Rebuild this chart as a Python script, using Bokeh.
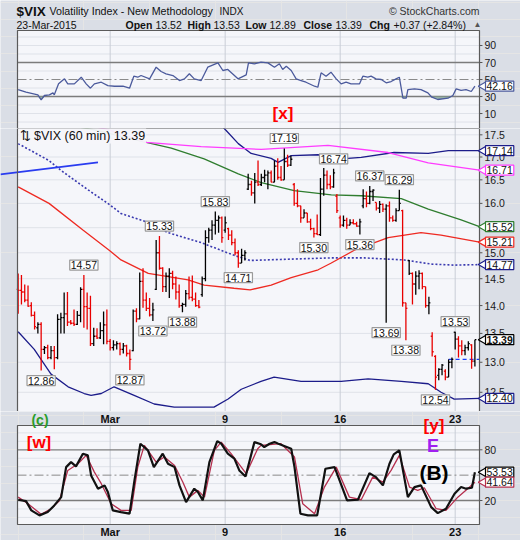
import numpy as np
from bokeh.plotting import figure
from bokeh.layouts import column
from bokeh.models import Range1d, Label
from bokeh.embed import file_html
from bokeh.resources import INLINE
from bokeh.core.properties import value

FONT = "Liberation Sans"
PANEL = "#f5f6fa"
BORDER = "#dadee6"
FRAME = "#5a5a5a"
GRID = "#dfe2e9"

# ---------------- data ----------------
# hourly bars, index 0 = first bar of 24-Feb-2015, 7 bars per trading day
bar_open = [14.30, 14.28, 14.25, 14.10, 14.00, 13.82, 13.60,
            13.66, 13.22, 13.25, 13.08, 13.20, 13.08, 13.75,
            13.78, 13.85, 13.70, 13.68, 13.66, 13.82, 14.30,
            13.98, 13.95, 13.32, 13.45, 13.42, 13.55, 13.65,
            13.36, 13.25, 13.30, 13.32, 13.22, 13.28, 13.15,
            13.20, 13.90, 13.76, 14.45, 14.10, 13.95, 13.83,
            14.30, 15.00, 14.70, 14.35, 14.55, 14.60, 14.40,
            14.25, 14.00, 14.02, 14.22, 14.15, 14.12, 14.00,
            14.20, 14.50, 15.30, 15.45, 15.55, 15.65, 15.70,
            15.45, 15.48, 15.35, 15.20, 15.00, 14.80, 14.95,
            16.30, 16.40, 16.22, 16.45, 16.40, 16.55, 16.60,
            16.65, 16.45, 16.80, 16.55, 16.50, 16.90, 16.82,
            16.40, 16.00, 15.95, 15.70, 15.80, 15.62, 15.48,
            15.38, 15.36, 16.30, 16.60, 16.40, 16.35, 16.15,
            15.70, 15.55, 15.65, 15.55, 15.60, 15.58, 15.53,
            15.95, 16.10, 16.00, 16.25, 16.02, 15.90, 15.98,
            15.88, 15.95, 15.70, 15.65, 15.85, 15.85, 14.05,
            14.85, 14.60, 14.40, 14.55, 14.60, 14.35, 14.00,
            13.45, 13.10, 12.78, 12.88, 12.85, 12.75, 13.00,
            13.52, 13.40, 13.28, 13.20, 13.25, 13.30, 13.02]
bar_high = [14.60, 14.57, 14.39, 14.37, 14.06, 13.89, 13.70,
            13.70, 13.28, 13.30, 13.28, 13.28, 13.84, 13.87,
            14.24, 14.25, 13.74, 13.93, 13.90, 14.34, 14.57,
            14.24, 14.18, 13.60, 13.59, 13.70, 13.89, 13.93,
            13.40, 13.38, 13.36, 13.34, 13.33, 13.30, 13.22,
            13.93, 13.95, 14.62, 14.70, 14.24, 14.14, 14.05,
            15.25, 15.33, 14.72, 14.62, 14.70, 14.65, 14.54,
            14.39, 14.05, 14.29, 14.54, 14.56, 14.24, 14.10,
            14.54, 15.45, 15.50, 15.65, 15.83, 15.75, 15.73,
            15.73, 15.50, 15.45, 15.28, 15.05, 15.08, 15.05,
            16.63, 16.48, 16.65, 16.92, 16.63, 16.72, 16.70,
            16.70, 16.92, 16.97, 16.80, 17.19, 17.05, 17.03,
            16.43, 16.30, 15.95, 15.88, 15.80, 15.68, 15.50,
            15.77, 16.54, 16.76, 16.70, 16.60, 16.74, 16.20,
            15.75, 15.75, 15.70, 15.67, 15.67, 15.62, 15.68,
            16.30, 16.25, 16.37, 16.30, 16.02, 16.05, 16.00,
            15.98, 16.04, 15.75, 15.90, 16.29, 15.87, 14.05,
            14.86, 14.62, 14.64, 14.66, 14.62, 14.35, 14.16,
            13.52, 13.12, 12.90, 12.97, 12.88, 13.05, 13.08,
            13.53, 13.45, 13.38, 13.30, 13.36, 13.31, 13.39]
bar_low = [13.85, 14.02, 14.06, 13.98, 13.80, 13.57, 13.50,
           12.86, 13.14, 13.05, 13.05, 12.88, 13.05, 13.50,
           13.50, 13.63, 13.66, 13.63, 13.65, 13.70, 13.60,
           13.57, 13.28, 13.28, 13.40, 13.40, 13.31, 13.31,
           13.20, 13.20, 13.22, 13.12, 13.15, 13.10, 12.87,
           13.19, 13.70, 13.75, 13.96, 13.90, 13.80, 13.72,
           14.29, 14.67, 14.25, 14.25, 14.14, 14.30, 14.11,
           13.96, 13.88, 13.98, 14.11, 14.08, 13.98, 13.95,
           14.16, 14.45, 15.20, 15.25, 15.36, 15.40, 15.20,
           15.40, 15.25, 15.15, 14.95, 14.71, 14.80, 14.85,
           16.28, 16.16, 16.00, 16.37, 16.37, 16.45, 16.30,
           16.45, 16.45, 16.50, 16.48, 16.50, 16.78, 16.80,
           15.95, 15.92, 15.60, 15.70, 15.60, 15.45, 15.30,
           15.35, 15.33, 16.16, 16.30, 16.30, 16.33, 15.80,
           15.50, 15.52, 15.48, 15.55, 15.57, 15.52, 15.36,
           15.90, 15.92, 15.98, 16.05, 15.85, 15.80, 15.82,
           13.69, 15.62, 15.62, 15.62, 15.85, 13.98, 13.38,
           14.57, 14.02, 14.20, 14.30, 14.30, 13.96, 13.84,
           13.10, 12.54, 12.70, 12.78, 12.70, 12.75, 12.90,
           13.22, 13.08, 13.12, 13.12, 13.20, 12.89, 12.93]
bar_close = [14.28, 14.25, 14.10, 13.99, 13.82, 13.62, 13.66,
             13.22, 13.25, 13.08, 13.20, 13.08, 13.75, 13.78,
             13.85, 13.70, 13.68, 13.66, 13.82, 14.30, 13.98,
             13.95, 13.32, 13.45, 13.42, 13.55, 13.65, 13.36,
             13.25, 13.30, 13.32, 13.22, 13.28, 13.15, 13.05,
             13.90, 13.76, 14.45, 14.10, 13.95, 13.83, 13.92,
             15.00, 14.70, 14.35, 14.55, 14.60, 14.40, 14.25,
             14.00, 14.02, 14.22, 14.15, 14.12, 14.00, 13.97,
             14.50, 15.30, 15.45, 15.55, 15.65, 15.70, 15.30,
             15.60, 15.35, 15.20, 15.00, 14.80, 14.95, 15.00,
             16.40, 16.22, 16.45, 16.40, 16.55, 16.60, 16.65,
             16.45, 16.80, 16.55, 16.50, 16.90, 16.82, 16.95,
             16.00, 15.95, 15.70, 15.80, 15.62, 15.48, 15.38,
             15.36, 16.30, 16.60, 16.40, 16.35, 16.65, 15.85,
             15.55, 15.65, 15.55, 15.60, 15.58, 15.53, 15.62,
             16.10, 16.00, 16.25, 16.28, 15.90, 15.98, 15.88,
             15.95, 15.70, 15.65, 15.85, 16.00, 14.05, 13.95,
             14.60, 14.40, 14.55, 14.60, 14.35, 14.00, 14.05,
             13.18, 12.75, 12.88, 12.95, 12.75, 13.00, 13.05,
             13.40, 13.28, 13.20, 13.25, 13.32, 13.02, 13.39]

high_callouts = [20, 43, 60, 81, 96, 107, 116, 133]
low_callouts = [7, 34, 41, 50, 67, 90, 104, 112, 118, 127]

week_ticks = [28, 63, 98, 133]
week_labels = ["Mar", "9", "16", "23"]
price_ticks = [12.5, 13.0, 13.5, 14.0, 14.5, 15.0, 15.5, 16.0, 16.5, 17.0, 17.5]
rsi_ticks = [10, 30, 50, 70, 90]
stoch_ticks = [20, 80]

ma_red_x = [0, 9.4, 19.8, 27.7, 31.3, 39.6, 51.7, 56.6, 65.7, 70.6, 77, 83.1, 91.3, 95.3, 102.3, 112.6, 122.6, 128.7, 140.4]
ma_red_y = [16.35, 16.0, 15.45, 15.05, 14.86, 14.6, 14.48, 14.38, 14.32, 14.29, 14.38, 14.52, 14.67, 14.8, 15.05, 15.3, 15.4, 15.35, 15.21]
ma_dot_x = [0, 9.4, 13.1, 22.2, 27.7, 31.3, 39.9, 45.6, 55.7, 65.7, 70.6, 80, 95.3, 105.3, 117.5, 125.7, 132.7, 140.4]
ma_dot_y = [17.3, 16.92, 16.7, 16.24, 15.98, 15.79, 15.6, 15.4, 15.2, 14.95, 14.85, 14.87, 14.9, 14.9, 14.86, 14.78, 14.76, 14.77]
ma_green_x = [13.1, 22.8, 39, 46.6, 56.6, 67, 74, 84, 95.3, 104.4, 116.6, 124.8, 134.8, 140.4]
ma_green_y = [17.75, 17.62, 17.33, 17.2, 16.96, 16.63, 16.44, 16.27, 16.18, 16.16, 16.1, 15.88, 15.66, 15.52]
ma_mag_x = [19.2, 27.4, 39, 55.7, 74, 94.3, 112.6, 124.8, 140.4]
ma_mag_y = [17.75, 17.62, 17.33, 17.23, 17.17, 17.26, 17.1, 16.87, 16.71]
band_up_x = [60.3, 63.3, 67, 70.9, 77, 79.1, 83.1, 91.3, 95.3, 100.4, 104.4, 114.4, 124.8, 130.9, 140.4]
band_up_y = [17.83, 17.6, 17.3, 17.08, 16.97, 16.88, 17.03, 17.05, 16.99, 16.97, 16.99, 17.1, 17.08, 17.14, 17.14]
band_lo_x = [0, 4.9, 10, 15.2, 20.1, 22.2, 25.3, 29.2, 35.3, 41.4, 47.5, 59.6, 63.9, 67.9, 73.9, 77.9, 86.1, 98.3, 106.5, 116.6, 124.8, 128.7, 132.7, 140.4]
band_lo_y = [13.53, 13.22, 12.8, 12.59, 12.48, 12.45, 12.48, 12.59, 12.45, 12.31, 12.26, 12.26, 12.39, 12.55, 12.68, 12.75, 12.68, 12.68, 12.72, 12.68, 12.64, 12.5, 12.39, 12.40]
trend_x = [-5.4, 24.3]
trend_y = [16.62, 16.88]
level_x = [131, 140.4]
level_y = [13.05, 13.05]

rsi_x = [0, 2.4, 6.0, 7.0, 8.0, 9.5, 10.6, 11.0, 12.3, 14.1, 15.1, 17.1, 19.2, 20.7, 22.0, 23.2, 25.3, 27.3, 29.3, 31.9,
         33.9, 35.2, 36.4, 37.4, 40.0, 42.0, 43.5, 45.0, 47.1, 49.1, 50.6, 52.1, 53.6, 55.7, 57.7, 60.8, 62.3, 63.8, 66.9, 69.4,
         70.1, 71.9, 73.9, 76.0, 78.0, 79.5, 80.5, 81.6, 83.1, 84.6, 86.1, 87.6, 90.2, 91.2, 92.2, 93.7, 95.2, 96.8, 98.3, 99.8,
         101.3, 103.9, 104.9, 106.4, 107.4, 108.9, 110.5, 112.0, 113.5, 115.0, 116.0, 117.1, 118.1, 118.6, 120.6,
         122.6, 124.7, 125.9, 127.7, 130.8, 132.3, 133.3, 134.8, 136.3, 137.9, 139.0]
rsi_y = [38.2, 35.1, 32.0, 26.1, 31.2, 32.0, 34.3, 32.0, 44.9, 50.8, 44.9, 44.9, 52.7, 44.9, 39.8, 44.9, 46.8, 42.9, 42.1, 42.1,
         39.8, 53.9, 52.7, 54.7, 50.8, 64.5, 59.4, 56.7, 54.7, 48.8, 50.8, 56.7, 50.8, 48.8, 64.5, 69.6, 60.6, 61.8, 50.8, 55.5,
         69.6, 68.5, 70.4, 69.6, 64.5, 68.5, 61.8, 65.6, 60.6, 50.8, 48.8, 46.8, 42.1, 40.9, 57.9, 53.9, 58.6, 50.8, 44.9, 46.8,
         44.9, 44.9, 53.9, 52.7, 53.9, 50.8, 50.0, 46.1, 47.6, 50.8, 52.7, 28.0, 28.0, 38.2, 39.0,
         38.2, 34.3, 29.2, 26.5, 28.0, 31.2, 39.0, 37.1, 38.2, 35.9, 42.16]

stoch_k_x = [0, 2.4, 4.0, 6.5, 9.0, 11.0, 13.1, 14.6, 16.1, 17.6, 19.7, 21.2, 22.2, 24.3, 26.3, 27.3, 28.8, 31.3, 33.9, 35.4,
             37.2, 39.5, 41.3, 44.0, 45.6, 47.6, 49.1, 51.1, 53.6, 54.7, 56.2, 58.2, 60.6, 61.8, 63.8, 65.8, 67.3, 69.2, 71.9, 73.9,
             74.9, 76.5, 78.0, 79.0, 83.1, 84.1, 85.9, 88.2, 91.0, 93.5, 96.3, 100.1, 103.4, 106.9, 108.9, 111.0, 113.0, 114.3, 116.0, 118.6,
             120.6, 122.6, 125.7, 127.7, 130.2, 132.8, 134.8, 136.3, 138.1, 139.0]
stoch_k = [20.9, 19.3, 8.3, 2.4, 6.3, 14.2, 24.0, 59.5, 65.4, 60.4, 75.4, 73.4, 49.7, 34.0, 37.9, 30.0, 8.3, 6.3, 4.4, 43.8,
           87.2, 79.3, 59.5, 75.4, 63.5, 59.5, 37.9, 18.1, 34.0, 30.0, 20.1, 65.4, 90.3, 87.2, 75.4, 69.5, 55.6, 48.5, 89.1, 86.5,
           83.2, 87.2, 89.1, 87.5, 81.3, 59.5, 4.4, 2.4, 2.4, 57.6, 59.5, 20.1, 20.9, 52.4, 47.7, 37.9, 63.5, 74.6, 79.3, 24.0,
           35.9, 37.9, 12.2, 5.1, 10.3, 28.0, 35.9, 34.0, 35.1, 53.53]
stoch_d_x = [0, 3.0, 7.0, 10.0, 12.6, 15.1, 18.2, 20.7, 23.2, 25.3, 28.3, 31.3, 34.4, 36.4, 38.4, 42.0, 44.5, 47.6, 50.1, 52.1,
             54.7, 56.7, 59.7, 61.8, 64.8, 69.4, 72.9, 73.9, 80.0, 84.1, 86.6, 90.2, 93.2, 96.8, 100.8, 104.4, 107.9, 111.0, 113.5, 116.0,
             119.1, 121.6, 123.6, 127.2, 130.2, 133.8, 136.8, 139.0]
stoch_d = [24.0, 16.2, 3.6, 10.3, 20.1, 55.6, 63.5, 73.4, 53.6, 39.9, 16.2, 8.3, 8.3, 59.5, 85.2, 65.4, 71.4, 61.5, 41.8, 24.0,
           32.0, 24.0, 79.3, 89.1, 75.4, 51.7, 81.3, 85.2, 87.2, 71.4, 16.2, 4.4, 35.9, 59.5, 24.0, 20.9, 47.7, 41.8, 55.6, 73.4,
           35.9, 32.0, 35.1, 10.3, 8.3, 24.0, 34.0, 41.64]

# ---------------- layout helpers ----------------
X0, X1 = -0.2, 140.4              # plot-area x extent (bar units)
xr = Range1d(-5.373, 152.877)     # includes left frame strip and right axis strip


def make_fig(h, yr, log=False):
    kw = dict(frame_width=520, frame_height=h, min_border=0, min_border_left=0, min_border_right=0,
              min_border_top=0, min_border_bottom=0, x_range=xr, y_range=yr,
              x_axis_location=None, y_axis_location=None, output_backend="svg",
              toolbar_location=None, background_fill_color=BORDER, border_fill_color=BORDER,
              outline_line_color=None)
    if log:
        kw["y_axis_type"] = "log"
    return figure(**kw)


def panel(p, y0, y1, grid, ticks, fmt):
    p.quad(left=[X0], right=[X1], bottom=[y0], top=[y1], fill_color=PANEL, line_color=None)
    p.segment(x0=[X0] * len(grid), x1=[X1] * len(grid), y0=grid, y1=grid, line_color=GRID, line_width=1)
    p.segment(x0=week_ticks, x1=week_ticks, y0=[y0] * 4, y1=[y1] * 4, line_color="#c9cdd6", line_width=1)
    p.segment(x0=[X1] * len(ticks), x1=[X1 + 0.9] * len(ticks), y0=ticks, y1=ticks, line_color="#555555", line_width=1)
    p.text(x=[X1] * len(ticks), y=ticks, text=[fmt % t for t in ticks], x_offset=5,
           text_font=value(FONT), text_font_size=value("10.5px"), text_color="#1a1a1a",
           text_baseline="middle", text_align="left")


def outline(p, y0, y1):
    p.quad(left=[X0], right=[X1], bottom=[y0], top=[y1], fill_color=None, line_color=FRAME, line_width=1.2)


def txt(p, x, y, s, size="11px", color="#111111", bold=False, align="left", **kw):
    p.add_layout(Label(x=x, y=y, x_units="screen", y_units="screen", text=s, text_font=FONT,
                       text_font_size=size, text_color=color,
                       text_font_style="bold" if bold else "normal",
                       text_align=align, text_baseline="middle", **kw))


def tag(p, y, s, border, bold=False):
    p.scatter(x=[X1 + 1.2], y=[y], marker="triangle", angle=np.pi / 2, size=9,
              fill_color="white", line_color=border, line_width=1.2)
    p.add_layout(Label(x=X1, y=y, x_offset=6, text=s, text_font=FONT, text_font_size="10.5px",
                       text_color="#111111", text_font_style="bold" if bold else "normal",
                       text_align="left", text_baseline="middle", border_line_color=border,
                       border_line_width=1.2, background_fill_color="white", padding=1))


# ---------------- RSI panel (canvas also holds the header) ----------------
p1 = make_fig(128, Range1d(-7.6, 142.9))
panel(p1, -7.6, 107.6, [0, 10, 20, 40, 60, 80, 90, 100], rsi_ticks, "%d")
p1.segment(x0=[X0, X0], x1=[X1, X1], y0=[30, 70], y1=[30, 70], line_color="#7c7c7c", line_width=1.3)
p1.segment(x0=[X0], x1=[X1], y0=[50], y1=[50], line_color="#8a8a8a", line_width=1, line_dash="9 3 2 3")
rx = np.array(rsi_x)
ry = np.array(rsi_y)
p1.varea(x=rx, y1=np.minimum(ry, 30), y2=30, fill_color="#86a896", fill_alpha=0.8)
p1.line(rx, ry, line_color="#4b5a9c", line_width=1.3)
outline(p1, -7.6, 107.6)
tag(p1, rsi_y[-1], "42.16", "#4b5a9c")
txt(p1, 282.5, 15.5, "[x]", size="17px", color="#ff0000", bold=True, align="center")

# header (canvas-relative pixel positions)
txt(p1, 16, 117.5, "$VIX", size="13.5px", bold=True)
txt(p1, 49, 117.5, "Volatility Index - New Methodology", size="10.7px")
txt(p1, 219, 117.5, "INDX", size="10px")
txt(p1, 479, 117.5, "\u00a9 StockCharts.com", size="10.5px", color="#333333", align="right")
txt(p1, 16, 104, "23-Mar-2015", size="10.5px")
pieces = [("Open", 125, True), ("13.52", 155, False), ("High", 187, True), ("13.53", 213, False),
          ("Low", 245, True), ("12.89", 269, False), ("Close", 303, True), ("13.39", 335, False),
          ("Chg", 369, True), ("+0.37 (+2.84%)", 393, False)]
for s, xx, b in pieces:
    txt(p1, xx, 104, s, size="10.5px", bold=b, align="left")
txt(p1, 473, 104.5, "\u25b2", size="8px", color="#555555")

# ---------------- price panel ----------------
p2 = make_fig(283, Range1d(12.19, 17.645), log=True)
panel(p2, 12.19, 17.645, price_ticks, price_ticks, "%.1f")

p2.line(band_lo_x, band_lo_y, line_color="#1c1c8a", line_width=1.3)
p2.line(band_up_x, band_up_y, line_color="#1c1c8a", line_width=1.3)
p2.line(ma_dot_x, ma_dot_y, line_color="#3a3ab0", line_width=1.6, line_dash="2 2")
p2.line(ma_red_x, ma_red_y, line_color="#ee2a22", line_width=1.3)
p2.line(ma_green_x, ma_green_y, line_color="#2f7d2f", line_width=1.3)
p2.line(ma_mag_x, ma_mag_y, line_color="#ff3cff", line_width=1.3)
p2.line(trend_x, trend_y, line_color="#2a3cf0", line_width=1.8)
p2.line(level_x, level_y, line_color="#1a3cff", line_width=1.3, line_dash="4 3")

o = np.array(bar_open)
h = np.array(bar_high)
lo = np.array(bar_low)
c = np.array(bar_close)
idx = np.arange(len(c))
prev = np.concatenate([[c[0] + 1], c[:-1]])
cols = np.where(c > prev, "#000000", "#e80000")
p2.segment(x0=idx, y0=lo, x1=idx, y1=h, line_color=cols, line_width=1.3)
p2.segment(x0=idx - 0.45, y0=o, x1=idx, y1=o, line_color=cols, line_width=1.3)
p2.segment(x0=idx, y0=c, x1=idx + 0.45, y1=c, line_color=cols, line_width=1.3)
outline(p2, 12.19, 17.645)

for i in high_callouts:
    p2.add_layout(Label(x=i, y=h[i], y_offset=5, text="%.2f" % h[i], text_font=FONT, text_font_size="10.5px",
                        text_color="#111111", text_align="center", text_baseline="bottom",
                        border_line_color="#9a9a9a", border_line_width=1.2, background_fill_color="white", padding=1))
for i in low_callouts:
    p2.add_layout(Label(x=i, y=lo[i], y_offset=-5, text="%.2f" % lo[i], text_font=FONT, text_font_size="10.5px",
                        text_color="#111111", text_align="center", text_baseline="top",
                        border_line_color="#9a9a9a", border_line_width=1.2, background_fill_color="white", padding=1))

txt(p2, 18, 276, "\u21c5 $VIX (60 min) 13.39", size="12.5px",
    background_fill_color=PANEL, background_fill_alpha=0.95, padding=1)

tag(p2, band_up_y[-1], "17.14", "#1c1c8a")
tag(p2, ma_mag_y[-1], "16.71", "#ff3cff")
tag(p2, ma_green_y[-1], "15.52", "#2f7d2f")
tag(p2, ma_red_y[-1], "15.21", "#ee2a22")
tag(p2, ma_dot_y[-1], "14.77", "#1c1c8a")
tag(p2, bar_close[-1], "13.39", "#000000", bold=True)
tag(p2, band_lo_y[-1], "12.40", "#1c1c8a")

# ---------------- stochastic panel (canvas also holds both date strips) ----------------
p3 = make_fig(129, Range1d(-27.3, 125.3))
panel(p3, -8.4, 108.76, [0, 10, 30, 40, 60, 70, 90, 100], stoch_ticks, "%d")
p3.segment(x0=[X0, X0], x1=[X1, X1], y0=[20, 80], y1=[20, 80], line_color="#7c7c7c", line_width=1.3)
p3.segment(x0=[X0], x1=[X1], y0=[50], y1=[50], line_color="#8a8a8a", line_width=1, line_dash="9 3 2 3")
p3.line(stoch_d_x, stoch_d, line_color="#b5304f", line_width=1.3)
p3.line(stoch_k_x, stoch_k, line_color="#111111", line_width=2.2)
outline(p3, -8.4, 108.76)
tag(p3, stoch_k[-1], "53.53", "#000000")
tag(p3, stoch_d[-1], "41.64", "#b5304f")

for yy in (117.0, -16.7):
    p3.text(x=week_ticks, y=[yy] * 4, text=week_labels, text_font=value(FONT), text_font_size=value("11px"),
            text_font_style="bold", text_color="#111111", text_align="center", text_baseline="middle")

txt(p3, 39.5, 121, "(c)", size="14px", color="#2a9d2a", bold=True, align="center")
txt(p3, 433.5, 115.5, "[y]", size="17px", color="#ff0000", bold=True, align="center")
txt(p3, 38.5, 98.5, "[w]", size="17px", color="#ff0000", bold=True, align="center")
txt(p3, 432.5, 94.5, "E", size="18px", color="#a020f0", bold=True, align="center")
txt(p3, 433.5, 68.5, "(B)", size="21px", color="#000000", bold=True, align="center")

layout = column(p1, p2, p3, spacing=0)
open("out.html", "w").write(file_html(layout, INLINE))
